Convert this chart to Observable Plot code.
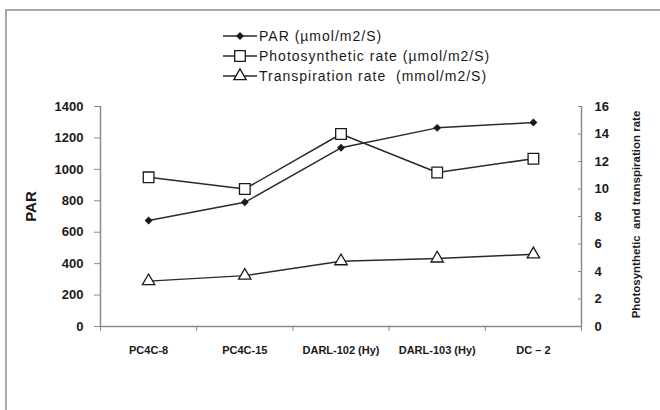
<!DOCTYPE html>
<html><head><meta charset="utf-8">
<script src="https://cdn.jsdelivr.net/npm/d3@7"></script>
<script src="https://cdn.jsdelivr.net/npm/@observablehq/plot@0.6"></script>
<style>
body{margin:0;width:660px;height:410px;overflow:hidden;background:#fff;position:relative;font-family:"Liberation Sans",Arial,sans-serif}
#frame{position:absolute;left:5px;top:9px;width:720px;height:520px;border:2px solid #a8a8a8;}
#chart{position:absolute;left:0;top:0}
#legend{position:absolute;left:222px;top:26px}
.row{height:20px;display:flex;align-items:center;font-size:14px;color:#1a1a1a;letter-spacing:1px;white-space:pre}
.row svg{margin-right:1px}
</style></head><body>
<div id="frame"></div>
<div id="chart"></div>
<div id="legend"></div>
<script>
const categories = ["PC4C-8", "PC4C-15", "DARL-102 (Hy)", "DARL-103 (Hy)", "DC – 2"];
const par = [675, 790, 1137, 1264, 1298];
const photosynthetic = [10.85, 10.0, 14.0, 11.2, 12.2];
const transpiration = [3.3, 3.7, 4.75, 4.95, 5.25];
const leftTicks = [0, 200, 400, 600, 800, 1000, 1200, 1400];
const rightTicks = [0, 2, 4, 6, 8, 10, 12, 14, 16];
const seriesNames = ["PAR (µmol/m2/S)", "Photosynthetic rate (µmol/m2/S)", "Transpiration rate  (mmol/m2/S)"];
const leftTitle = "PAR";
const rightTitle = "Photosynthetic  and transpiration rate";

const k = 1400 / 16;
const rows = categories.map((c, i) => ({i, c, par: par[i], ph: photosynthetic[i] * k, tr: transpiration[i] * k}));
const axisGray = "#8a8a8a";
const ink = "#1a1a1a";
const lineInk = "#2a2a2a";
const font = "'Liberation Sans', Arial, sans-serif";

const symbols = [
  {type: "diamond2", d3t: d3.symbolDiamond2, r: 3.6, fill: ink, stroke: "none", sw: 0},
  {type: "square", d3t: d3.symbolSquare, r: 6.0, fill: "white", stroke: ink, sw: 1.3},
  {type: "triangle", d3t: d3.symbolTriangle, r: 4.6, fill: "white", stroke: ink, sw: 1.3}
];
const keys = ["par", "ph", "tr"];

const marks = [
  Plot.ruleY([0], {stroke: axisGray, strokeWidth: 1.5}),
  Plot.ruleX([0, 5], {stroke: axisGray, strokeWidth: 1.5}),
  Plot.axisY(leftTicks, {anchor: "left", tickSize: 6, tickPadding: 11, tickFormat: d => String(d), stroke: axisGray, fill: ink, fontSize: 13, fontWeight: "bold", label: null}),
  Plot.axisY(rightTicks.map(v => v * k), {anchor: "right", tickSize: -4, tickPadding: 17, tickFormat: d => String(Math.round(d / k)), stroke: axisGray, fill: ink, fontSize: 13, fontWeight: "bold", label: null, textAnchor: "start"}),
  Plot.axisX([0, 1, 2, 3, 4, 5], {anchor: "bottom", tickSize: 5, tickFormat: () => "", stroke: axisGray, label: null}),
  Plot.axisX(categories.map((c, i) => i + 0.5), {anchor: "bottom", tickSize: 0, tickPadding: 20, tickFormat: d => categories[Math.floor(d)], fill: ink, fontSize: 11, fontWeight: "bold", label: null, style: "letter-spacing:0.4px"}),
  Plot.text([leftTitle], {frameAnchor: "left", dx: -69, dy: -10, rotate: -90, textAnchor: "middle", lineAnchor: "middle", fontSize: 15, fontWeight: "bold", fill: ink}),
  Plot.text([rightTitle], {frameAnchor: "right", dx: 55, dy: -2, rotate: -90, textAnchor: "middle", lineAnchor: "middle", fontSize: 11.5, fontWeight: "bold", fill: ink, style: "letter-spacing:0.2px"})
];
keys.forEach((key) => {
  marks.push(Plot.line(rows, {x: d => d.i + 0.5, y: key, stroke: lineInk, strokeWidth: 1.5}));
});
keys.forEach((key, s) => {
  const sy = symbols[s];
  marks.push(Plot.dot(rows, {x: d => d.i + 0.5, y: key, symbol: sy.type, r: sy.r, fill: sy.fill, stroke: sy.stroke, strokeWidth: sy.sw}));
});

const chart = Plot.plot({
  width: 660, height: 410,
  marginLeft: 100, marginRight: 79, marginTop: 106, marginBottom: 84,
  x: {domain: [0, 5], axis: null},
  y: {domain: [0, 1400], axis: null},
  style: {background: "transparent", fontFamily: font, overflow: "visible"},
  marks
});
document.getElementById("chart").append(chart);

const legend = d3.select("#legend");
seriesNames.forEach((name, s) => {
  const sy = symbols[s];
  const row = legend.append("div").attr("class", "row");
  const svg = row.append("svg").attr("width", 36).attr("height", 20);
  svg.append("line").attr("x1", 1).attr("x2", 35).attr("y1", 10).attr("y2", 10).attr("stroke", lineInk).attr("stroke-width", 1.5);
  svg.append("path").attr("transform", "translate(18,10)")
    .attr("d", d3.symbol().type(sy.d3t).size(Math.PI * sy.r * sy.r)())
    .attr("fill", sy.fill).attr("stroke", sy.stroke === "none" ? null : sy.stroke).attr("stroke-width", sy.sw);
  row.append("span").text(name);
});
</script>
</body></html>
